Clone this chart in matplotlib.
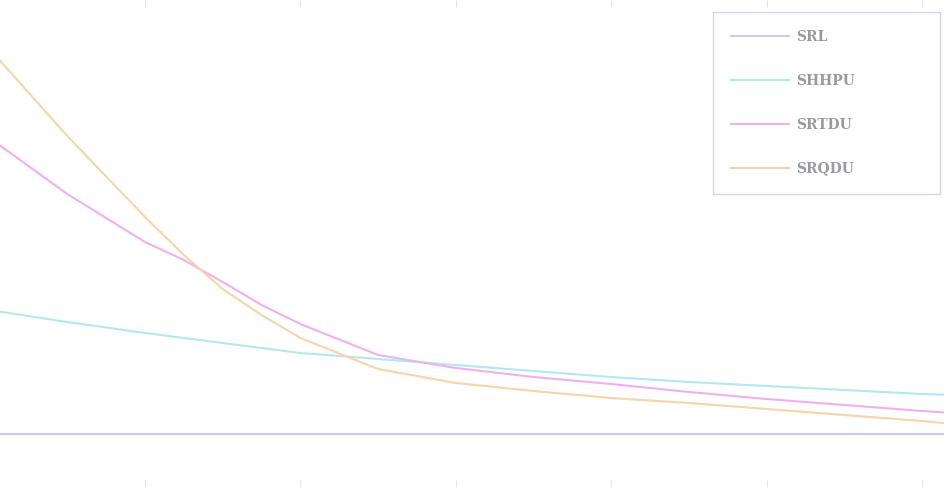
import matplotlib
matplotlib.use("Agg")
import matplotlib.pyplot as plt

# Data
x = [0.0, 0.5, 1.0, 1.25, 1.5, 1.75, 2.0, 2.5, 3.0, 3.5, 4.0, 4.5, 5.0, 5.5, 6.0, 6.2]
srl = [0.01] * 16
shhpu = [1.25, 1.13, 1.02, 0.97, 0.92, 0.87, 0.82, 0.76, 0.70, 0.64, 0.58, 0.53, 0.49, 0.45, 0.41, 0.40]
srtdu = [2.97, 2.41, 1.93, 1.75, 1.53, 1.30, 1.11, 0.80, 0.67, 0.58, 0.51, 0.43, 0.36, 0.30, 0.24, 0.22]
srqdu = [3.86, 2.99, 2.18, 1.80, 1.46, 1.20, 0.97, 0.66, 0.52, 0.44, 0.37, 0.32, 0.26, 0.20, 0.14, 0.11]
labels = ["SRL", "SHHPU", "SRTDU", "SRQDU"]
xticks = [1, 2, 3, 4, 5, 6]

colors = ["#c4cdf4", "#b4e8f0", "#f0b0f0", "#f8d4a8"]

fig = plt.figure(figsize=(9.45, 4.87), dpi=100)
ax = fig.add_axes([0, 0, 1, 1])
for series, lab, c in zip([srl, shhpu, srtdu, srqdu], labels, colors):
    ax.plot(x, series, color=c, lw=1.5, label=lab)

ax.set_xlim(0.067, 6.148)
ax.set_ylim(-0.52, 4.35)
ax.set_xticks(xticks)
ax.set_yticks([])
ax.tick_params(axis="x", direction="in", length=5, color="#e4e4ec",
               top=True, bottom=True, labelbottom=False)
for s in ax.spines.values():
    s.set_visible(False)

leg = ax.legend(loc="upper left", bbox_to_anchor=(0.7545, 0.0, 0.2402, 0.9754),
                mode="expand", borderaxespad=0,
                prop={"family": "DejaVu Serif", "weight": "bold", "size": 10},
                labelspacing=2.15, borderpad=1.3, handlelength=4.2,
                handletextpad=0.5, fancybox=False, framealpha=1,
                edgecolor="#d6d6e2")
for t in leg.get_texts():
    t.set_color("#9a9aa4")

fig.savefig("out.png", dpi=100)
